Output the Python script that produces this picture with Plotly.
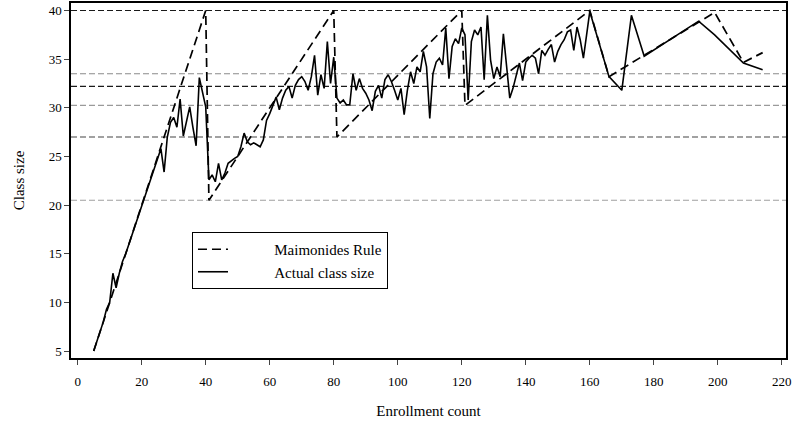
import plotly.graph_objects as go

# ---- data ----
enroll_actual = list(range(5, 161)) + [166, 170, 173, 177, 194, 199, 208, 214]
class_actual = [
    # 5-24
    5, 6, 7, 8, 9.3, 10, 13, 11.5, 13, 14.2, 15, 16, 17, 18, 19, 20, 21, 22, 22.8, 24,
    # 25-40
    25, 25.8, 23.4, 27, 28.5, 29, 28, 30.9, 27.1, 28.5, 30.1, 28, 26.1, 33.1, 31.5, 30.1,
    # 41-60
    22.6, 23.1, 22.4, 24.3, 22.6, 23.3, 24.3, 24.6, 24.8, 25.0, 26.0, 27.4, 26.5, 26.2, 26.4, 26.2, 26.0, 26.7, 28.7, 29.4,
    # 61-80
    30.3, 31.1, 29.8, 31.0, 31.8, 32.2, 31.0, 32.3, 32.9, 33.2, 32.7, 31.8, 33.2, 35.4, 31.3, 33.4, 32.0, 36.8, 32.5, 35.2,
    # 81-100
    31.0, 30.5, 30.8, 30.3, 30.3, 33.5, 31.8, 33.0, 32.0, 31.5, 30.8, 29.7, 31.7, 32.3, 31.0, 32.9, 33.4, 32.7, 31.8, 30.8,
    # 101-120
    32.0, 29.3, 31.8, 33.7, 32.5, 34.2, 33.7, 35.8, 34.2, 28.9, 33.5, 34.7, 35.1, 34.4, 38.2, 33.0, 36.3, 37.1, 36.6, 38.2,
    # 121-140
    37.5, 30.8, 36.8, 38.0, 37.5, 38.3, 32.9, 39.5, 34.9, 33.0, 34.2, 33.2, 37.6, 34.6, 31.0, 32.0, 33.4, 34.6, 32.8, 34.7,
    # 141-160
    35.1, 35.4, 35.1, 33.5, 35.9, 35.4, 36.0, 36.5, 34.7, 35.8, 36.5, 37.0, 37.8, 38.0, 35.9, 38.3, 37.0, 35.1, 37.5, 39.9,
    # sparse tail
    33.2, 31.8, 39.5, 35.3, 38.9, 37.5, 34.6, 33.9,
]

rule_enroll = [5, 40, 41, 80, 81, 120, 121, 160, 166, 199, 208, 214]
rule_size = [5, 40, 20.5, 40, 27, 40, 30.25, 40, 33.2, 39.8, 34.67, 35.67]

ref_levels = [40, 33.5, 32.2, 30.25, 27, 20.5]
ref_colors = ["#1a1a1a", "#8a8a8a", "#1a1a1a", "#9a9a9a", "#444444", "#a0a0a0"]

x_ticks = [0, 20, 40, 60, 80, 100, 120, 140, 160, 180, 200, 220]
y_ticks = [5, 10, 15, 20, 25, 30, 35, 40]

FONT = "Liberation Serif, Times New Roman, Times, serif"
pad = "\u00a0" * 11

fig = go.Figure()
fig.add_trace(go.Scatter(
    x=rule_enroll, y=rule_size, mode="lines", name=pad + "Maimonides Rule",
    line=dict(color="black", width=1.7, dash="9px,5px"),
))
fig.add_trace(go.Scatter(
    x=enroll_actual, y=class_actual, mode="lines", name=pad + "Actual class size",
    line=dict(color="black", width=1.6),
))

for lvl, col in zip(ref_levels, ref_colors):
    fig.add_shape(type="line", xref="x domain", yref="y", x0=0, x1=1, y0=lvl, y1=lvl,
                  line=dict(color=col, width=1.2, dash="6px,3px"), layer="below")

fig.update_layout(
    width=792, height=421,
    margin=dict(l=71, r=6, t=3, b=63, autoexpand=False),
    plot_bgcolor="white", paper_bgcolor="white",
    font=dict(family=FONT, size=15, color="black"),
    showlegend=True,
    legend=dict(x=0.1692, y=0.3549, xanchor="left", yanchor="top",
                bordercolor="black", borderwidth=1, bgcolor="white",
                font=dict(family=FONT, size=15), tracegroupgap=0),
    xaxis=dict(range=[-2.09, 221.3], tickvals=x_ticks, ticks="outside", ticklen=5,
               tickwidth=1, showline=True, linecolor="black", linewidth=1.5, mirror=True,
               showgrid=False, zeroline=False, ticklabelstandoff=6,
               tickfont=dict(family=FONT, size=13),
               title=dict(text="Enrollment count", standoff=17, font=dict(size=15))),
    yaxis=dict(range=[4.29, 40.77], tickvals=y_ticks, ticks="outside", ticklen=5,
               tickwidth=1, showline=True, linecolor="black", linewidth=1.5, mirror=True,
               showgrid=False, zeroline=False,
               tickfont=dict(family=FONT, size=13),
               title=dict(text="Class size", standoff=20, font=dict(size=15))),
)

fig.write_html("out.html", config={"displayModeBar": False},
               post_script="document.body.style.margin='0';")
